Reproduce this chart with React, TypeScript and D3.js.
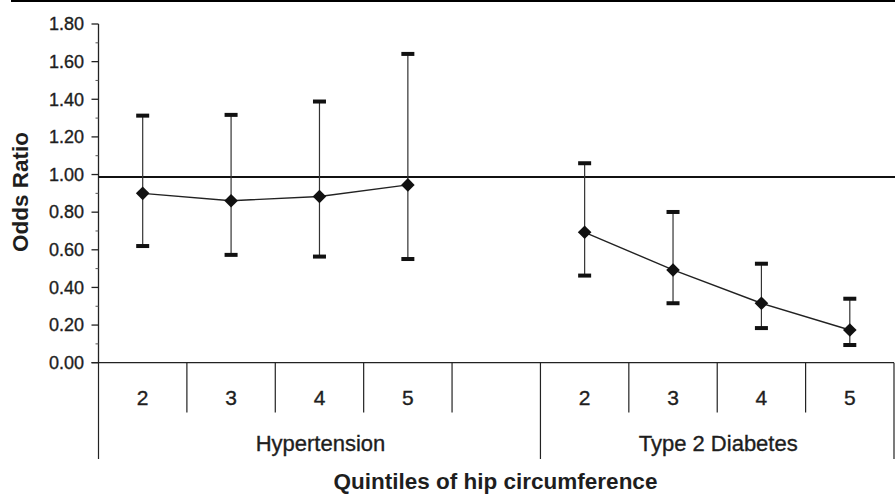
import React from "react";
import * as d3 from "d3";

const W = 895;
const H = 496;

const slots = ["H2", "H3", "H4", "H5", "gap", "D2", "D3", "D4", "D5"];
const slotLabels = ["2", "3", "4", "5", "", "2", "3", "4", "5"];
const groups = [
  { name: "Hypertension", from: "H2", to: "gap" },
  { name: "Type 2 Diabetes", from: "D2", to: "D5" },
];

const htCats = ["H2", "H3", "H4", "H5"];
const htOR = [0.9, 0.861, 0.883, 0.945];
const htLow = [0.62, 0.573, 0.564, 0.551];
const htHigh = [1.313, 1.317, 1.388, 1.641];

const dmCats = ["D2", "D3", "D4", "D5"];
const dmOR = [0.693, 0.493, 0.316, 0.174];
const dmLow = [0.463, 0.316, 0.184, 0.094];
const dmHigh = [1.06, 0.801, 0.526, 0.34];

const refValue = 0.987;
const yTicks = [0, 0.2, 0.4, 0.6, 0.8, 1.0, 1.2, 1.4, 1.6, 1.8];
const yMinor = [0.1, 0.3, 0.5, 0.7, 0.9, 1.1, 1.3, 1.5, 1.7];

const FONT = "'Liberation Sans', Arial, Helvetica, sans-serif";
const TXT = "#1e1e1e";

export default function App() {
  const left = 98.5;
  const right = 894;
  const x = d3.scaleBand<string>().domain(slots).range([left, right]).padding(0);
  const y = d3.scaleLinear().domain([0, 1.8]).range([362.7, 24]);
  const cx = (c: string) => (x(c) as number) + x.bandwidth() / 2;
  const line = d3
    .line<[number, number]>()
    .x((d) => d[0])
    .y((d) => d[1]);

  const series = [
    { cats: htCats, or: htOR, lo: htLow, hi: htHigh },
    { cats: dmCats, or: dmOR, lo: dmLow, hi: dmHigh },
  ];
  const diamond = d3.symbol().type(d3.symbolDiamond2).size(118)() as string;

  const y0 = y(0);
  const shortBottom = 412.5;
  const longBottom = 459;
  const boundaries = slots.map((s) => x(s) as number).concat([right]);
  const longIdx = new Set([0, 5, 9]);
  const textStroke = { stroke: TXT, strokeWidth: 0.35 };

  return (
    <svg
      width={W}
      height={H}
      style={{ position: "absolute", left: 0, top: 0, background: "#fff" }}
    >
      {/* top border */}
      <line x1={11} x2={W} y1={1} y2={1} stroke="#000" strokeWidth={2} />

      {/* y axis */}
      <line x1={left} x2={left} y1={y(1.8)} y2={y0} stroke="#222" strokeWidth={1.3} />
      {yTicks.map((t) => (
        <g key={"t" + t}>
          <line x1={left - 7} x2={left} y1={y(t)} y2={y(t)} stroke="#222" strokeWidth={1.3} />
          <text
            x={84}
            y={y(t)}
            dy="0.35em"
            textAnchor="end"
            fontFamily={FONT}
            fontSize={18}
            fill={TXT}
            {...textStroke}
          >
            {t.toFixed(2)}
          </text>
        </g>
      ))}
      {yMinor.map((t) => (
        <line key={"m" + t} x1={left - 3} x2={left} y1={y(t)} y2={y(t)} stroke="#555" strokeWidth={1} />
      ))}

      {/* y axis title */}
      <text
        transform={`translate(28,192) rotate(-90)`}
        textAnchor="middle"
        fontFamily={FONT}
        fontWeight="bold"
        fontSize={22.5}
        fill={TXT}
      >
        Odds Ratio
      </text>

      {/* x baseline and category dividers */}
      <line x1={left - 7} x2={right} y1={y0} y2={y0} stroke="#222" strokeWidth={1.3} />
      {boundaries.map((bx, i) => (
        <line
          key={"b" + i}
          x1={bx}
          x2={bx}
          y1={y0}
          y2={longIdx.has(i) ? longBottom : shortBottom}
          stroke="#222"
          strokeWidth={1.2}
        />
      ))}
      {slots.map((s, i) => (
        <text
          key={"c" + s}
          x={cx(s)}
          y={405}
          textAnchor="middle"
          fontFamily={FONT}
          fontSize={21}
          fill={TXT}
          {...textStroke}
        >
          {slotLabels[i]}
        </text>
      ))}
      {groups.map((g) => {
        const gx0 = x(g.from) as number;
        const gx1 = (x(g.to) as number) + x.bandwidth();
        return (
          <text
            key={g.name}
            x={(gx0 + gx1) / 2 + 1}
            y={451}
            textAnchor="middle"
            fontFamily={FONT}
            fontSize={22}
            fill={TXT}
            {...textStroke}
          >
            {g.name}
          </text>
        );
      })}
      <text
        x={495.5}
        y={489}
        textAnchor="middle"
        fontFamily={FONT}
        fontWeight="bold"
        fontSize={22.5}
        fill={TXT}
      >
        Quintiles of hip circumference
      </text>

      {/* reference line */}
      <line x1={left} x2={W} y1={y(refValue)} y2={y(refValue)} stroke="#111" strokeWidth={2.2} />

      {/* series */}
      {series.map((sr, si) => (
        <g key={"s" + si}>
          {sr.cats.map((c, i) => (
            <g key={c}>
              <line
                x1={cx(c)}
                x2={cx(c)}
                y1={y(sr.lo[i])}
                y2={y(sr.hi[i])}
                stroke="#333"
                strokeWidth={1.2}
              />
              <rect x={cx(c) - 6.5} y={y(sr.hi[i]) - 2} width={13} height={4} fill="#111" />
              <rect x={cx(c) - 6.5} y={y(sr.lo[i]) - 2} width={13} height={4} fill="#111" />
            </g>
          ))}
          <path
            d={line(sr.cats.map((c, i) => [cx(c), y(sr.or[i])]) as [number, number][]) as string}
            fill="none"
            stroke="#222"
            strokeWidth={1.4}
          />
          {sr.cats.map((c, i) => (
            <path
              key={"d" + c}
              d={diamond}
              transform={`translate(${cx(c)},${y(sr.or[i])})`}
              fill="#111"
            />
          ))}
        </g>
      ))}
    </svg>
  );
}
